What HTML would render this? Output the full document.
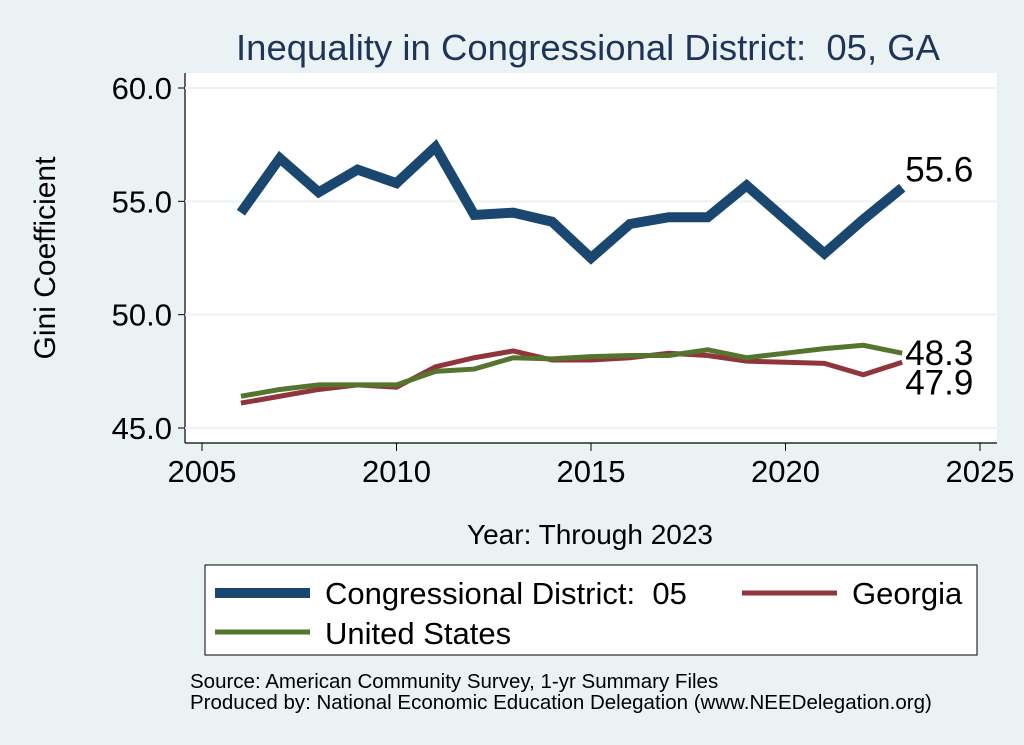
<!DOCTYPE html>
<html><head><meta charset="utf-8"><style>
body{margin:0;background:#eaf2f3;}
svg{display:block;font-family:"Liberation Sans",sans-serif;}
text{white-space:pre;}
</style></head><body>
<svg id="c" width="1024" height="745">
<rect x="0" y="0" width="1024" height="745" fill="#eaf2f3"/>
<rect x="185" y="73" width="812" height="370" fill="#fff"/>
<text x="588" y="60" text-anchor="middle" font-size="36.5" fill="#1e3559">Inequality in Congressional District:  05, GA</text>
<line x1="185" y1="73" x2="185" y2="443" stroke="#000" stroke-width="1.2"/>
<line x1="185" y1="443" x2="997" y2="443" stroke="#000" stroke-width="1.2"/>
<g id="grid"></g><g id="axes"></g><g id="series"></g>
<text x="55" y="258" text-anchor="middle" font-size="30" transform="rotate(-90 55 258)">Gini Coefficient</text>
<text x="590" y="544" text-anchor="middle" font-size="28">Year: Through 2023</text>
<g>
<rect x="205" y="565" width="772" height="90" fill="#fff" stroke="#000" stroke-width="1"/>
<line x1="215" y1="593" x2="310" y2="593" stroke="#1a476f" stroke-width="10"/>
<text x="325" y="604" font-size="31">Congressional District:  05</text>
<line x1="742" y1="593" x2="837" y2="593" stroke="#90353b" stroke-width="5"/>
<text x="852" y="604" font-size="31">Georgia</text>
<line x1="215" y1="632" x2="310" y2="632" stroke="#55752f" stroke-width="5"/>
<text x="325" y="644" font-size="31">United States</text>
</g>
<text x="190" y="688" font-size="20.5">Source: American Community Survey, 1-yr Summary Files</text>
<text x="190" y="709" font-size="20.5">Produced by: National Economic Education Delegation (www.NEEDelegation.org)</text>
</svg>
<script>
const years=[2006,2007,2008,2009,2010,2011,2012,2013,2014,2015,2016,2017,2018,2019,2020,2021,2022,2023];
const district=[54.5,56.9,55.4,56.4,55.8,57.4,54.4,54.5,54.1,52.5,54.0,54.3,54.3,55.7,54.2,52.7,54.2,55.6];
const georgia=[46.1,46.4,46.7,46.9,46.8,47.7,48.1,48.4,48.0,48.0,48.1,48.3,48.2,47.95,47.9,47.85,47.35,47.9];
const usa=[46.4,46.7,46.9,46.9,46.9,47.5,47.6,48.1,48.05,48.15,48.2,48.2,48.45,48.1,48.3,48.5,48.65,48.3];
const yTicks=[45,50,55,60];
const xTicks=[2005,2010,2015,2020,2025];
const NS="http://www.w3.org/2000/svg";
const X=v=>202+(v-2005)*(980-202)/20;
const Y=v=>428-(v-45)*(428-88)/15;
function mk(t,a,p){const e=document.createElementNS(NS,t);for(const k in a)e.setAttribute(k,a[k]);document.getElementById(p).appendChild(e);return e;}
yTicks.forEach(v=>{
 const g=mk('line',{x1:185,x2:997,y1:Y(v),y2:Y(v),stroke:'#eaf2f3','stroke-width':2},'grid');
 
 
 mk('line',{x1:178,x2:185,y1:Y(v),y2:Y(v),stroke:'#000'},'axes');
 const t=mk('text',{x:172,y:Y(v)+11,'text-anchor':'end','font-size':31},'axes');
 t.textContent=v.toFixed(1);
 
 
});
xTicks.forEach(v=>{
 mk('line',{x1:X(v),x2:X(v),y1:443,y2:451,stroke:'#000'},'axes');
 const t=mk('text',{x:X(v),y:482,'text-anchor':'middle','font-size':31},'axes');
 t.textContent=v;
 
 
});
function line(d,col,w,name,dy){
 const p=mk('polyline',{points:d.map((v,i)=>X(years[i])+','+Y(v)).join(' '),fill:'none',stroke:col,'stroke-width':w,'stroke-linejoin':'miter'},'series');
 
 
 const last=d[d.length-1];
 const t=mk('text',{x:X(years[years.length-1])+3,y:Y(last)+dy,'font-size':35},'series');
 t.textContent=last.toFixed(1);
 
 
}
line(georgia,'#90353b',5,'georgia-line',32);
line(usa,'#55752f',5,'us-line',12);
line(district,'#1a476f',10,'district-line',-6);
</script>
</body></html>
